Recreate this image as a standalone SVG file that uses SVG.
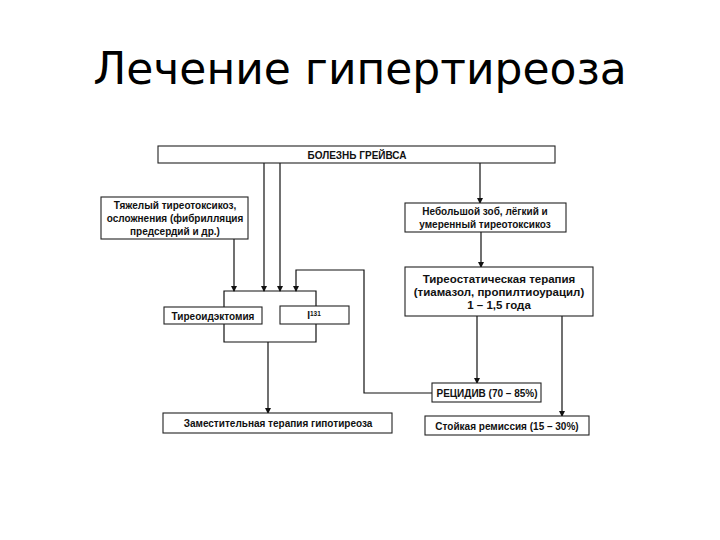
<svg xmlns="http://www.w3.org/2000/svg" width="720" height="540" viewBox="0 0 720 540">
<defs>
<marker id="ah" markerWidth="6" markerHeight="6" refX="5" refY="3" orient="auto" markerUnits="userSpaceOnUse">
<path d="M0,0 L6,3 L0,6 Z" fill="#111"/>
</marker>
<style>
.title{font-family:"DejaVu Sans",sans-serif;font-size:44px;fill:#000}
.box{fill:#fff;stroke:#222;stroke-width:1.1}
.t{font-family:"Liberation Sans",Arial,sans-serif;font-size:10px;font-weight:bold;fill:#111;text-anchor:middle}
.big{font-size:11.5px}
.ln{fill:none;stroke:#111;stroke-width:1.2}
.ar{fill:none;stroke:#111;stroke-width:1.2;marker-end:url(#ah)}
</style>
</defs>
<rect width="720" height="540" fill="#fff"/>
<text class="title" x="360" y="84" text-anchor="middle">Лечение гипертиреоза</text>

<g id="connectors">
<line class="ar" x1="264" y1="163" x2="264" y2="291"/>
<line class="ar" x1="280" y1="163" x2="280" y2="291"/>
<line class="ar" x1="480" y1="163" x2="480" y2="203"/>
<line class="ar" x1="234" y1="239" x2="234" y2="291"/>
<polyline class="ar" points="432,393 364,393 364,270 296,270 296,291"/>
<path class="ln" d="M224,291 H316 V342 H224 Z"/>
<line class="ar" x1="268" y1="342" x2="268" y2="413"/>
<line class="ar" x1="481" y1="232" x2="481" y2="267"/>
<line class="ar" x1="477" y1="316" x2="477" y2="383"/>
<line class="ar" x1="562" y1="316" x2="562" y2="416"/>
</g>

<g id="graves">
<rect class="box" x="158" y="146" width="397" height="17"/>
<text class="t" x="357" y="158.5">БОЛЕЗНЬ ГРЕЙВСА</text>
</g>

<g id="severe">
<rect class="box" x="101" y="197" width="147" height="42"/>
<text class="t" x="175" y="209">Тяжелый тиреотоксикоз,</text>
<text class="t" x="175" y="222">осложнения (фибрилляция</text>
<text class="t" x="175" y="235">предсердий и др.)</text>
</g>

<g id="mild">
<rect class="box" x="405" y="203" width="161" height="29"/>
<text class="t" x="485" y="215">Небольшой зоб, лёгкий и</text>
<text class="t" x="485" y="228">умеренный тиреотоксикоз</text>
</g>

<g id="thyreostatic">
<rect class="box" x="405" y="267" width="188" height="49"/>
<text class="t big" x="499" y="283">Тиреостатическая терапия</text>
<text class="t big" x="499" y="296">(тиамазол, пропилтиоурацил)</text>
<text class="t big" x="499" y="309">1 – 1,5 года</text>
</g>

<g id="thyroidectomy">
<rect class="box" x="164" y="307" width="98" height="17"/>
<text class="t" x="213" y="319.5">Тиреоидэктомия</text>
</g>

<g id="iodine">
<rect class="box" x="280" y="306" width="69" height="18"/>
<text class="t" x="314" y="319">I<tspan font-size="6.5px" dy="-3">131</tspan></text>
</g>

<g id="relapse">
<rect class="box" x="432" y="383" width="109" height="19"/>
<text class="t" x="487" y="396.5">РЕЦИДИВ (70 – 85%)</text>
</g>

<g id="replacement">
<rect class="box" x="163" y="413" width="229" height="20"/>
<text class="t" x="278" y="427">Заместительная терапия гипотиреоза</text>
</g>

<g id="remission">
<rect class="box" x="425" y="416" width="164" height="19"/>
<text class="t" x="507" y="429.5">Стойкая ремиссия (15 – 30%)</text>
</g>
</svg>
